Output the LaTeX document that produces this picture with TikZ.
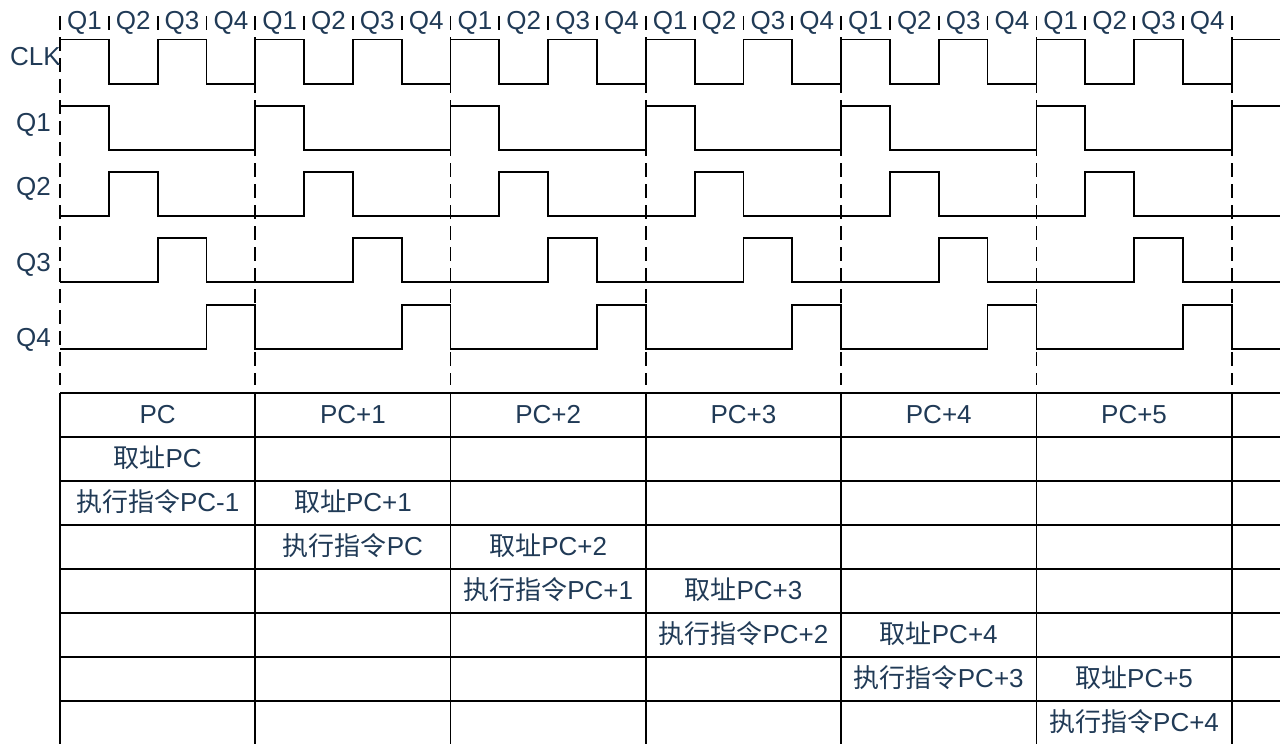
\documentclass[tikz,border=0pt]{standalone}
\usepackage{fontspec}
\setmainfont{Liberation Sans}
\newfontfamily\cjk{Noto Sans CJK SC}
\definecolor{txt}{HTML}{203A56}
\begin{document}
\begin{tikzpicture}[x=1pt,y=-1pt,
  sig/.style={line width=1.8pt, line join=miter},
  guide/.style={line width=1.8pt, dash pattern=on 14pt off 7pt},
  qtick/.style={line width=1.8pt},
  gridline/.style={line width=1.8pt},
  lbl/.style={text=txt, font=\fontsize{26}{30}\selectfont, inner sep=0pt},
  cell/.style={text=txt, font=\fontsize{26}{30}\selectfont, inner sep=0pt, anchor=base}]
\useasboundingbox (0,0) rectangle (1280,744);
\def\q{48.82}
\def\per{195.28}
% guide lines and quarter ticks
\foreach \p in {0,...,6} \draw[guide] (60+\p*\per,16) -- (60+\p*\per,385);
\foreach \k in {0,...,24} \draw[qtick] (60+\k*\q,16) -- (60+\k*\q,30);
% top quarter labels
\foreach \p in {0,...,5} \foreach \k in {1,...,4}
  \node[lbl, anchor=base] (t\p\k) at ({60+\p*\per+(\k-0.5)*\q},29.5) {Q\k};
% left labels
\node[lbl, anchor=base east] (lclk) at (61,65.3) {CLK};
\node[lbl, anchor=base east] (lq1) at (51,131.6) {Q1};
\node[lbl, anchor=base east] (lq2) at (51,195.3) {Q2};
\node[lbl, anchor=base east] (lq3) at (51,271.6) {Q3};
\node[lbl, anchor=base east] (lq4) at (51,346.6) {Q4};
% signals
\draw[sig] (60,39.5) \foreach \p in {0,...,5} { -- ++(\q,0) -- ++(0,44.5) -- ++(\q,0) -- ++(0,-44.5) -- ++(\q,0) -- ++(0,44.5) -- ++(\q,0) -- ++(0,-44.5) } -- (1280,39.5);
\draw[sig] (60,106) \foreach \p in {0,...,5} { -- ++(\q,0) -- ++(0,44) -- ++(3*\q,0) -- ++(0,-44) } -- (1280,106);
\draw[sig] (60,216) \foreach \p in {0,...,5} { -- ++(\q,0) -- ++(0,-44) -- ++(\q,0) -- ++(0,44) -- ++(2*\q,0) } -- (1280,216);
\draw[sig] (60,282) \foreach \p in {0,...,5} { -- ++(2*\q,0) -- ++(0,-44) -- ++(\q,0) -- ++(0,44) -- ++(\q,0) } -- (1280,282);
\draw[sig] (60,349) \foreach \p in {0,...,5} { -- ++(3*\q,0) -- ++(0,-44) -- ++(\q,0) -- ++(0,44) } -- (1280,349);
% table
\foreach \r in {0,...,7} \draw[gridline] (60,393+\r*44) -- (1280,393+\r*44);
\foreach \p in {0,...,6} \draw[gridline] (60+\p*\per,393) -- (60+\p*\per,744);
% header row
\node[cell] (h0) at (157.64,423.5) {PC};
\node[cell] (h1) at ({157.64+1*\per},423.5) {PC+1};
\node[cell] (h2) at ({157.64+2*\per},423.5) {PC+2};
\node[cell] (h3) at ({157.64+3*\per},423.5) {PC+3};
\node[cell] (h4) at ({157.64+4*\per},423.5) {PC+4};
\node[cell] (h5) at ({157.64+5*\per},423.5) {PC+5};
% fetch / execute cells
\node[cell] (f0) at (157.64,467.5) {{\cjk 取址}PC};
\node[cell] (e0) at (157.64,511.5) {{\cjk 执行指令}PC-1};
\node[cell] (f1) at ({157.64+1*\per},511.5) {{\cjk 取址}PC+1};
\node[cell] (e1) at ({157.64+1*\per},555.5) {{\cjk 执行指令}PC};
\node[cell] (f2) at ({157.64+2*\per},555.5) {{\cjk 取址}PC+2};
\node[cell] (e2) at ({157.64+2*\per},599.5) {{\cjk 执行指令}PC+1};
\node[cell] (f3) at ({157.64+3*\per},599.5) {{\cjk 取址}PC+3};
\node[cell] (e3) at ({157.64+3*\per},643.5) {{\cjk 执行指令}PC+2};
\node[cell] (f4) at ({157.64+4*\per},643.5) {{\cjk 取址}PC+4};
\node[cell] (e4) at ({157.64+4*\per},687.5) {{\cjk 执行指令}PC+3};
\node[cell] (f5) at ({157.64+5*\per},687.5) {{\cjk 取址}PC+5};
\node[cell] (e5) at ({157.64+5*\per},731.5) {{\cjk 执行指令}PC+4};
\end{tikzpicture}
\end{document}
